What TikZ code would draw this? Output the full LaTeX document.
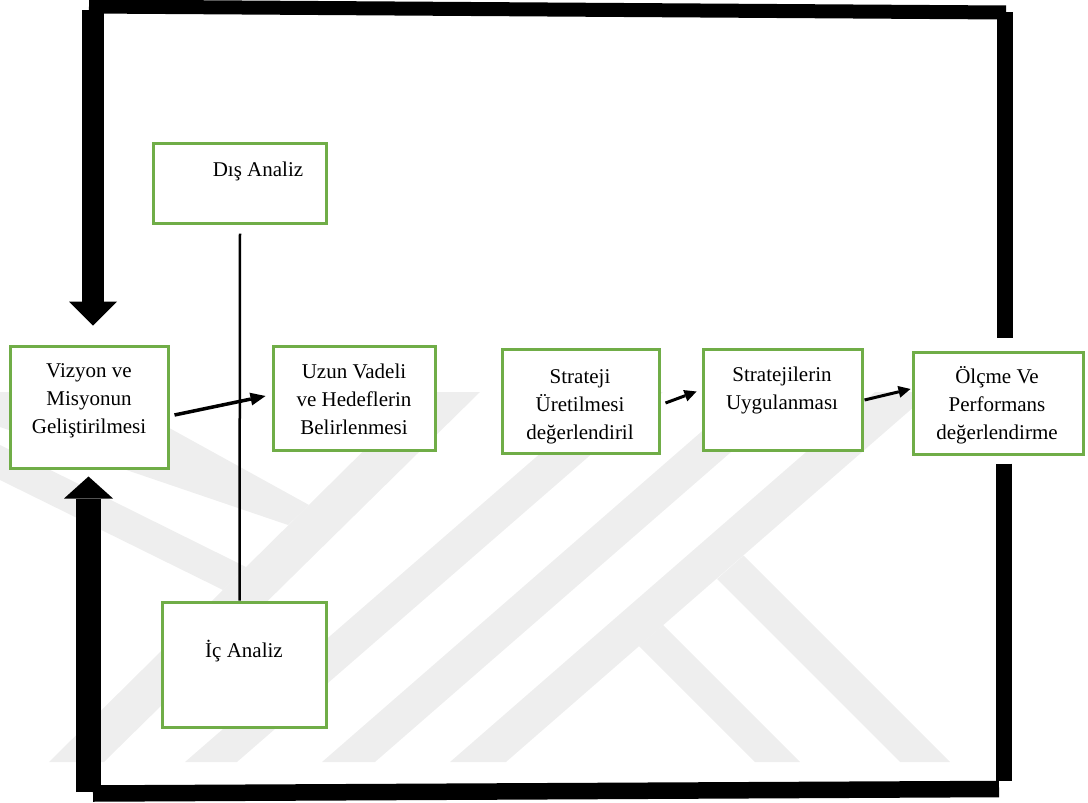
\documentclass[tikz,border=0pt]{standalone}
\usepackage{fontspec}
\setmainfont{Liberation Serif}
\usetikzlibrary{arrows.meta,calc}
\definecolor{boxgreen}{RGB}{112,173,71}
\definecolor{wmgray}{gray}{0.935}
\begin{document}
\begin{tikzpicture}[x=1pt,y=-1pt,
  box/.style={draw=boxgreen,line width=3pt,fill=white,inner sep=0pt},
  lbl/.style={font=\fontsize{21pt}{28pt}\selectfont,align=center,inner sep=0pt},
  bar/.style={draw=black,line cap=butt},
  link/.style={draw=black,line width=3.5pt,-{Triangle[length=15pt,width=13pt,line width=0pt]}},
  slink/.style={draw=black,line width=3pt,-{Triangle[length=12pt,width=12pt,line width=0pt]}},
  wm/.style={fill=wmgray}]
\useasboundingbox (0,0) rectangle (1088,803);

% faint background emblem
\fill[wm] (0,392) -- (104,392) -- (309,505) -- (288,525) -- (0,427) -- cycle;
\fill[wm] (0,445) -- (246,567) -- (223,590) -- (0,480) -- cycle;
\fill[wm] (423,392) -- (480,392) -- (104,762) -- (49,762) -- cycle;
\fill[wm] (611,392) -- (663,392) -- (237,762) -- (185,762) -- cycle;
\fill[wm] (747,392) -- (800,392) -- (375,762) -- (322,762) -- cycle;
\fill[wm] (875,392) -- (931,392) -- (506,762) -- (450,762) -- cycle;
\fill[wm] (755,762) -- (800,762) -- (663,625) -- (639,646) -- cycle;
\fill[wm] (900,762) -- (950,762) -- (743.5,555.5) -- (717,579) -- cycle;

% boxes
\node[box,minimum width=158pt,minimum height=122pt] (viz)   at (89,407)    {};
\node[box,minimum width=162pt,minimum height=104pt] (uzun)  at (354,398)   {};
\node[box,minimum width=173pt,minimum height=80pt]  (dis)   at (239.5,183) {};
\node[box,minimum width=164pt,minimum height=125pt] (ic)    at (244,664.5) {};
\node[box,minimum width=157pt,minimum height=104pt] (strat) at (580.5,401) {};
\node[box,minimum width=159pt,minimum height=101pt] (uyg)   at (782.5,399.5) {};
\node[box,minimum width=170pt,minimum height=102pt] (olc)   at (998,403)   {};

% labels
\node[lbl] (vizt)   at (89,401)    {Vizyon ve\\Misyonun\\Geliştirilmesi};
\node[lbl] (uzunt)  at (354,399.5) {Uzun Vadeli\\ve Hedeflerin\\Belirlenmesi};
\node[lbl] (dist)   at (258,171)   {Dış Analiz};
\node[lbl] (ict)    at (244,651)   {İç Analiz};
\node[lbl] (stratt) at (580,406.5) {Strateji\\Üretilmesi\\değerlendiril};
\node[lbl] (uygt)   at (782,390)   {Stratejilerin\\Uygulanması};
\node[lbl] (olct)   at (997,405)   {Ölçme Ve\\Performans\\değerlendirme};

% analysis axis
\draw[line width=2.5pt] ($(dis.south)+(0.5,9)$) -- (dis.south |- ic.north);

% process arrows
\draw[link]  ($(viz.east)+(5,8)$)   -- ($(uzun.west)+(-6,-2)$);
\draw[slink] ($(strat.east)+(5,2)$) -- ($(uyg.west)+(-5,-8)$);
\draw[slink] ($(uyg.east)+(1,0.5)$) -- ($(olc.west)+(-1,-14)$);

% feedback loop
\coordinate (ctl) at (89,6.5);
\coordinate (ctr) at (1006,12.5);
\coordinate (cbl) at (93,793.5);
\coordinate (cbr) at (999,789);
\draw[bar,line width=14pt] (ctl) -- (ctr);
\draw[bar,line width=16pt] (1005,12) -- ($(olc.north)+(7,-13)$);
\draw[bar,line width=22pt,-{Triangle[length=24pt,width=48pt,line width=0pt]}]
  (93,10) -- ($(viz.north)+(4,-19)$);
\draw[bar,line width=16pt] ($(olc.south)+(6,8)$) -- (1004,781);
\draw[bar,line width=16.5pt] (cbr) -- (cbl);
\draw[bar,line width=25pt,-{Triangle[length=22pt,width=49pt,line width=0pt]}]
  (88.5,792) -- ($(viz.south)+(-0.5,7)$);
\end{tikzpicture}
\end{document}
